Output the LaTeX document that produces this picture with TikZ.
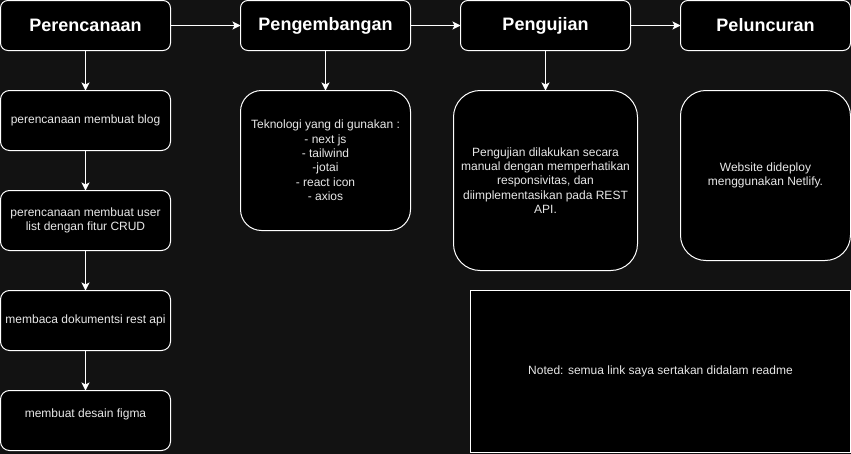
\documentclass[tikz,border=0pt]{standalone}
\usepackage{fontspec}
\setmainfont{Liberation Sans}
\usepackage{xcolor}
\usepackage{tikz}
\usetikzlibrary{shapes,arrows.meta,positioning,calc}
\definecolor{bgdark}{RGB}{18,18,18}
\definecolor{txtgrey}{RGB}{232,232,232}

\begin{document}
\begin{tikzpicture}[
  x=0.75pt, y=-0.75pt,
  phase/.style={rectangle, draw=white, fill=black, line width=0.75pt, outer sep=0pt, rounded corners=5.6pt, minimum width=127.5pt, minimum height=37.5pt, align=center, text=white, font=\fontsize{13.5}{16}\selectfont\bfseries},
  task/.style={rectangle, draw=white, fill=black, line width=0.75pt, outer sep=0pt, rounded corners=6.75pt, minimum width=127.5pt, minimum height=45pt, align=center, text=txtgrey, font=\fontsize{9}{10.8}\selectfont, inner sep=2pt},
  arrow/.style={-{Stealth[length=6pt, width=6pt, inset=1.5pt]}, white, line width=0.75pt}
]
\fill[bgdark] (0,0) rectangle (851,454);
\useasboundingbox (0,0) rectangle (851,454);
% phases
\node[phase] (plan) at (85.5,25.5) {Perencanaan};
\node[phase, right=52.5pt of plan] (dev) {Pengembangan};
\node[phase, right=37.5pt of dev] (test) {Pengujian};
\node[phase, right=37.5pt of test] (launch) {Peluncuran};
% planning steps
\node[task, below=30pt of plan] (blog) {perencanaan membuat blog};
\node[task, below=30pt of blog] (userlist) {perencanaan membuat user\\list dengan fitur CRUD};
\node[task, below=30pt of userlist] (restapi) {membaca dokumentsi rest api};
\node[task, below=30pt of restapi] (figma) {membuat desain figma\\[0pt]\mbox{}};
% details
\node[task, below=30pt of dev, minimum height=105pt, rounded corners=15.75pt] (stack) {Teknologi yang di gunakan :\\- next js\\- tailwind\\-jotai\\- react icon\\- axios};
\node[task, below=30pt of test, minimum width=138pt, minimum height=135pt, rounded corners=20pt] (testdesc) {Pengujian dilakukan secara\\manual dengan memperhatikan\\responsivitas, dan\\diimplementasikan pada REST\\API.};
\node[task, below=30pt of launch, minimum height=127.5pt, rounded corners=19pt] (deploy) {Website dideploy\\menggunakan Netlify.};
\node[task, sharp corners, minimum width=285pt, minimum height=121.5pt, anchor=north east] (note) at ($(deploy.east |- testdesc.south)+(0,-15pt)$) {Noted: semua link saya sertakan didalam readme};
\draw[arrow] (plan) -- (dev);
\draw[arrow] (dev) -- (test);
\draw[arrow] (test) -- (launch);
\draw[arrow] (plan) -- (blog);
\draw[arrow] (blog) -- (userlist);
\draw[arrow] (userlist) -- (restapi);
\draw[arrow] (restapi) -- (figma);
\draw[arrow] (dev) -- (stack);
\draw[arrow] (test) -- (testdesc);
\end{tikzpicture}
\end{document}
